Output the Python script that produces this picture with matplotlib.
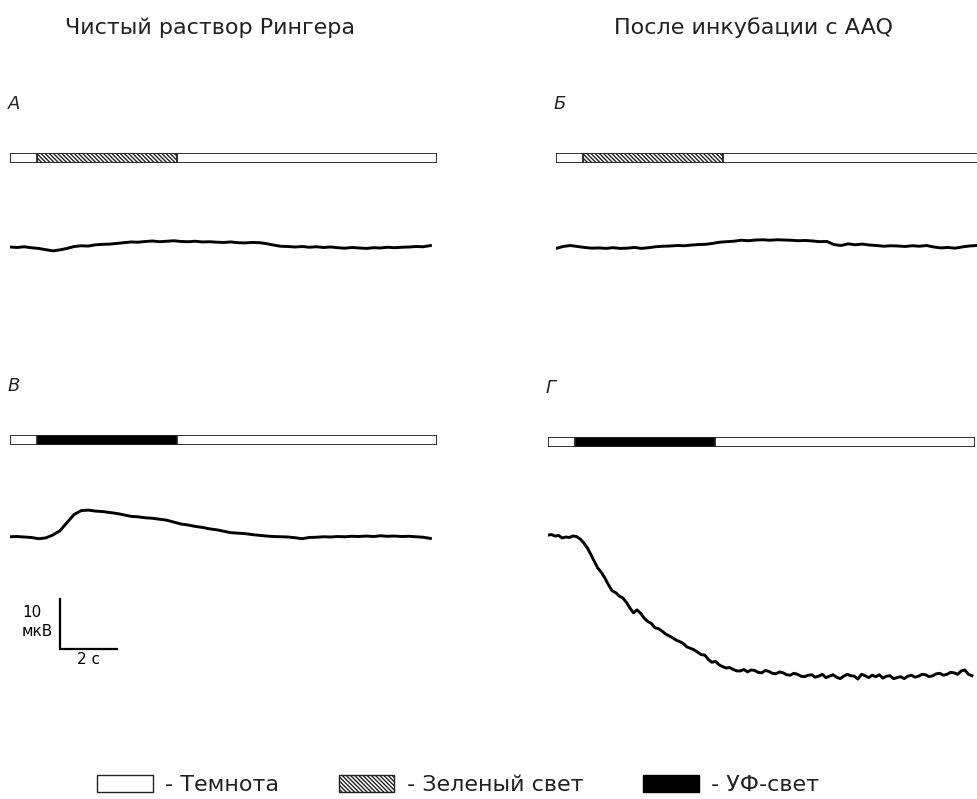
import matplotlib

matplotlib.use("Agg")

import matplotlib.pyplot as plt
import numpy as np
from matplotlib.patches import Patch

plt.rcParams["font.family"] = ["DejaVu Sans"]
plt.rcParams["hatch.linewidth"] = 1.0

# время регистрации, с
t = np.arange(60) * 0.25        # шаг 0.25 с
t_g = np.arange(120) * 0.125    # шаг 0.125 с (панель Г)
light_on, light_off = 0.95, 5.85
total = 15.0

# ЭРГ, мкВ относительно исходного уровня
trace_a = [0.0, -0.1, 0.05, -0.15, -0.3, -0.55, -0.8, -0.6, -0.3, 0.1,
           0.25, 0.2, 0.45, 0.55, 0.6, 0.75, 0.9, 1.05, 1.0, 1.15,
           1.25, 1.1, 1.2, 1.3, 1.15, 1.1, 1.2, 1.05, 1.1, 1.0,
           0.95, 1.05, 0.9, 0.85, 0.95, 0.9, 0.7, 0.4, 0.15, 0.1,
           0.0, 0.1, -0.05, 0.05, -0.1, 0.0, -0.15, -0.25, -0.1, -0.2,
           -0.3, -0.15, -0.2, -0.05, -0.15, -0.05, 0.0, 0.1, 0.05, 0.3]
trace_b = [-0.5, -0.1, 0.1, -0.1, -0.3, -0.45, -0.4, -0.5, -0.35, -0.5,
           -0.45, -0.3, -0.5, -0.35, -0.15, -0.05, 0.0, 0.1, 0.05, 0.2,
           0.3, 0.35, 0.55, 0.8, 0.9, 1.0, 1.2, 1.1, 1.25, 1.3,
           1.2, 1.3, 1.25, 1.2, 1.1, 1.15, 1.05, 0.9, 0.95, 0.3,
           0.1, 0.45, 0.25, 0.4, 0.2, 0.1, -0.05, 0.05, 0.0, -0.1,
           0.05, -0.05, 0.1, -0.2, -0.4, -0.3, -0.45, -0.2, 0.0, 0.1]
trace_v = [0.05, 0.1, 0.0, -0.1, -0.35, -0.2, 0.4, 1.3, 3.0, 4.7,
           5.5, 5.6, 5.4, 5.3, 5.1, 4.9, 4.6, 4.3, 4.2, 4.0,
           3.9, 3.7, 3.5, 3.1, 2.7, 2.5, 2.2, 2.0, 1.7, 1.5,
           1.2, 0.9, 0.8, 0.7, 0.5, 0.35, 0.2, 0.1, 0.05, 0.0,
           -0.15, -0.35, -0.1, -0.05, 0.05, 0.0, 0.1, 0.05, 0.15, 0.1,
           0.2, 0.1, 0.25, 0.15, 0.2, 0.1, 0.15, 0.05, -0.05, -0.3]
trace_g = [0.4, 0.5, 0.2, 0.3, -0.2, 0.0, -0.1, 0.2, 0.1, -0.4,
           -1.2, -2.2, -3.6, -5.1, -6.5, -7.4, -8.6, -10.0, -11.2, -11.6,
           -12.3, -12.7, -13.6, -14.8, -15.8, -15.2, -15.9, -16.9, -17.6, -18.0,
           -18.9, -19.1, -19.6, -20.2, -20.6, -21.0, -21.5, -21.8, -22.2, -22.9,
           -23.2, -23.5, -24.0, -24.5, -24.6, -25.5, -26.1, -25.9, -26.6, -27.0,
           -27.3, -27.2, -27.6, -27.9, -27.9, -27.6, -28.1, -27.7, -27.8, -28.2,
           -28.3, -27.8, -28.0, -28.4, -28.5, -28.1, -28.3, -28.7, -28.8, -28.4,
           -28.6, -29.0, -29.1, -28.8, -28.7, -29.2, -29.0, -28.6, -29.3, -29.0,
           -28.7, -29.2, -29.5, -29.0, -28.6, -28.9, -29.0, -29.6, -28.6, -28.9,
           -29.3, -28.8, -29.1, -28.7, -29.4, -29.0, -28.9, -29.5, -29.3, -29.1,
           -29.5, -29.0, -28.8, -29.2, -29.0, -28.6, -28.7, -29.1, -28.9, -28.5,
           -28.4, -28.8, -28.6, -28.2, -28.3, -28.6, -27.9, -27.7, -28.6, -28.9]

titles = ["Чистый раствор Рингера", "После инкубации с AAQ"]
letters = ["А", "Б", "В", "Г"]
legend_labels = ["- Темнота", "- Зеленый свет", "- УФ-свет"]

W, H = 977, 799
PX_S = 28.5   # пикселей на 1 с
PX_UV = 4.8   # пикселей на 1 мкВ
HATCH = "\\" * 8

fig = plt.figure(figsize=(W / 100, H / 100), dpi=100)


def px_axes(left, top, width, height):
    ax = fig.add_axes([left / W, 1 - (top + height) / H, width / W, height / H])
    ax.set_axis_off()
    return ax


def draw_panel(x0, bar_top, base_y, times, values, hatched, letter):
    width = total * PX_S
    bar = px_axes(x0, bar_top, width, 10)
    bar.set_xlim(0, total)
    bar.set_ylim(0, 1)
    bar.barh([0.5], [total], height=1, left=0, color="white",
             edgecolor="#222222", linewidth=1.3)
    if hatched:
        bar.barh([0.5], [light_off - light_on], height=1, left=light_on,
                 color="white", edgecolor="#222222", hatch=HATCH,
                 linewidth=1.3)
    else:
        bar.barh([0.5], [light_off - light_on], height=1, left=light_on,
                 color="black", edgecolor="#222222", linewidth=1.3)

    top, bottom = bar_top + 40, bar_top + 270
    ax = px_axes(x0, top, width, bottom - top)
    ax.set_xlim(0, total)
    ax.set_ylim((base_y - bottom) / PX_UV, (base_y - top) / PX_UV)
    ax.plot(times, values, color="black", linewidth=2.1, solid_joinstyle="round")

    fig.text((x0 - 2) / W, 1 - (bar_top - 49) / H, letter, style="italic",
             fontsize=13, va="center", ha="left", color="#222222")
    return ax


draw_panel(10, 153, 247, t, trace_a, True, letters[0])
draw_panel(556, 153, 246, t, trace_b, True, letters[1])
ax_v = draw_panel(10, 435, 537, t, trace_v, False, letters[2])
draw_panel(548, 437, 537, t_g, trace_g, False, letters[3])

# масштабная метка 10 мкВ / 2 с
sx, sy = 1.75, -23.3
ax_v.plot([sx, sx, sx + 2], [sy + 10.4, sy, sy], color="black",
          linewidth=1.6, clip_on=False, solid_joinstyle="miter")
ax_v.text(0.42, sy + 7.6, "10", fontsize=11, ha="left", va="center")
ax_v.text(0.42, sy + 3.6, "мкВ", fontsize=11, ha="left", va="center")
ax_v.text(sx + 1.0, sy - 0.6, "2 с", fontsize=11, ha="center", va="top")

fig.text(210 / W, 1 - 28 / H, titles[0], fontsize=16, ha="center", va="center",
         color="#222222")
fig.text(753 / W, 1 - 28 / H, titles[1], fontsize=16, ha="center", va="center",
         color="#222222")

handles = [
    Patch(facecolor="white", edgecolor="#222222", linewidth=1.0),
    Patch(facecolor="white", edgecolor="#222222", hatch=HATCH, linewidth=1.0),
    Patch(facecolor="black", edgecolor="black", linewidth=1.0),
]
fig.legend(handles, legend_labels, loc="center", bbox_to_anchor=(458 / W, 1 - 785 / H),
           ncol=3, frameon=False, fontsize=16, handlelength=2.5, handleheight=0.8,
           handletextpad=0.55, columnspacing=2.7, labelcolor="#222222")

fig.savefig("out.png", dpi=100)
